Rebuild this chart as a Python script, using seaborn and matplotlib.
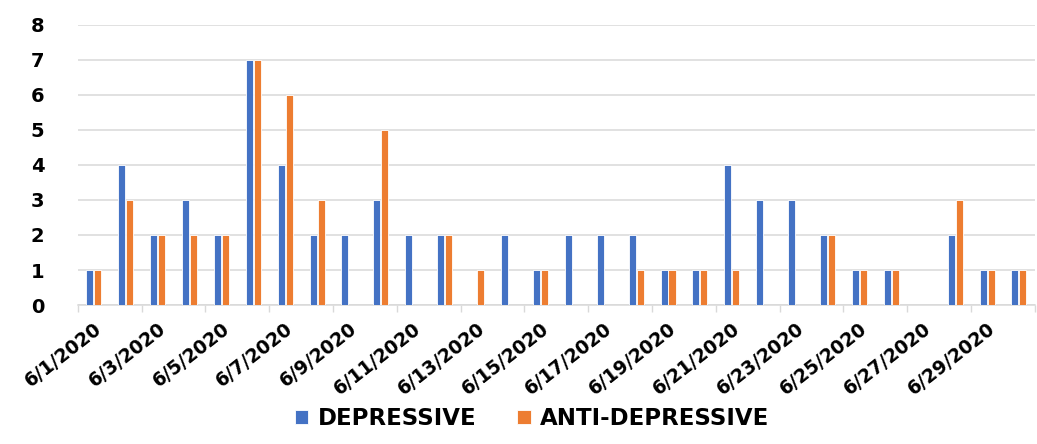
import matplotlib
matplotlib.use("Agg")
import matplotlib.pyplot as plt
import seaborn as sns
import pandas as pd
import numpy as np

dates = ["6/%d/2020" % d for d in range(1, 31)]
depressive = [1, 4, 2, 3, 2, 7, 4, 2, 2, 3, 2, 2, 0, 2, 1,
              2, 2, 2, 1, 1, 4, 3, 3, 2, 1, 1, 0, 2, 1, 1]
anti_depressive = [1, 3, 2, 2, 2, 7, 6, 3, 0, 5, 0, 2, 1, 0, 1,
                   0, 0, 1, 1, 1, 1, 0, 0, 2, 1, 1, 0, 3, 1, 1]
series = ["DEPRESSIVE", "ANTI-DEPRESSIVE"]
colors = ["#4472C4", "#ED7D31"]

df = pd.DataFrame({
    "date": dates * 2,
    "count": depressive + anti_depressive,
    "kind": [series[0]] * len(dates) + [series[1]] * len(dates),
})

sns.set_theme(style="white")
plt.rcParams["font.family"] = ["DejaVu Sans"]
plt.rcParams["font.weight"] = "bold"
plt.rcParams["text.color"] = "black"
plt.rcParams["xtick.color"] = "black"
plt.rcParams["ytick.color"] = "black"

fig = plt.figure(figsize=(10.37, 4.44), dpi=100)
ax = fig.add_axes([0.075, 0.313, 0.923, 0.631])

sns.barplot(data=df, x="date", y="count", hue="kind", palette=colors,
            saturation=1, width=0.5, gap=0.12, edgecolor="white", linewidth=0.6,
            ax=ax, zorder=3)

ax.set_ylim(0, 8)
ax.set_xlim(-0.5, len(dates) - 0.5)
ax.set_yticks(range(0, 9))
ax.set_yticklabels([str(i) for i in range(0, 9)], fontsize=14, fontweight="bold")
ax.yaxis.grid(True, color="#d9d9d9", linewidth=1.1, zorder=0)
ax.set_axisbelow(True)
ax.tick_params(axis="y", length=0, pad=24)

pos = np.arange(len(dates))
ax.set_xticks(pos[::2])
ax.set_xticklabels(dates[::2], rotation=38, ha="right", rotation_mode="anchor",
                   fontsize=13.5, fontweight="bold")
ax.tick_params(axis="x", which="major", length=0, pad=10)
ax.set_xticks(np.arange(-0.5, len(dates), 2), minor=True)
ax.tick_params(axis="x", which="minor", length=5, color="#d9d9d9", width=1, bottom=True)

for s in ["top", "right", "left"]:
    ax.spines[s].set_visible(False)
ax.spines["bottom"].set_color("#d9d9d9")
ax.spines["bottom"].set_linewidth(1.1)
ax.set_xlabel("")
ax.set_ylabel("")

handles, labels = ax.get_legend_handles_labels()
ax.legend_.remove()
fig.legend(handles, labels, loc="center", bbox_to_anchor=(0.513, 0.057), ncol=2,
           frameon=False, prop={"size": 16.5, "weight": "bold"},
           handlelength=0.6, handleheight=0.6, handletextpad=0.4, columnspacing=1.8)

fig.savefig("out.png", dpi=100)
